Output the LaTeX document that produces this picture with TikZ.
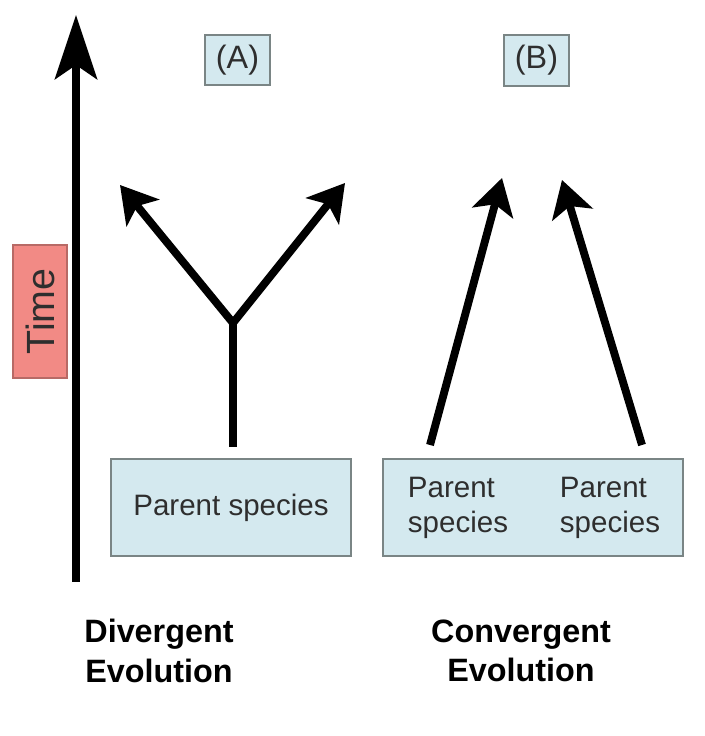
\documentclass[tikz,border=0pt]{standalone}
\usepackage{fontspec}
\setmainfont{Liberation Sans}
\usetikzlibrary{arrows.meta}
\definecolor{boxblue}{HTML}{D4E9EF}
\definecolor{boxline}{HTML}{7A8585}
\definecolor{timered}{HTML}{F28A85}
\definecolor{timeline}{HTML}{B86A66}
\definecolor{textgray}{HTML}{2E2E2E}

\begin{document}
\begin{tikzpicture}[
    bluebox/.style={draw=boxline, fill=boxblue, line width=1.2pt, inner sep=0pt},
    evo/.style={line width=5.6pt, -{Stealth[length=0.9cm, width=1.05cm, inset=0.22cm]}},
    caption/.style={font=\fontsize{23}{28}\selectfont\bfseries, align=center, inner sep=0pt}
  ]
    \useasboundingbox (0,0) rectangle (17.6,18.4);
    % time axis
    \coordinate (t0) at (1.9,3.85);
    \coordinate (t1) at (1.9,18.025);
    \draw[line width=6pt, -{Stealth[length=1.6cm, width=1.05cm, inset=0.35cm]}] (t0) -- (t1);
    \node[draw=timeline, fill=timered, line width=1pt, minimum width=3.325cm, minimum height=1.35cm,
      inner sep=0pt, rotate=90, font=\fontsize{28}{30}\selectfont, text=textgray] (time) at (1.0,10.6125) {Time};
    \begin{scope}
      % divergent
      \node[bluebox, minimum width=1.625cm, minimum height=1.25cm, font=\fontsize{23}{25}\selectfont, text=textgray]
        (labA) at (5.9375,16.9) {(A)};
      \node[bluebox, minimum width=6cm, minimum height=2.425cm] (parA) at (5.775,5.7125) {};
      \node[font=\fontsize{21}{25}\selectfont, text=textgray] (parAtxt) at (parA) {Parent species};
      \coordinate (stem) at (5.825,7.225);
      \coordinate (fork) at (5.825,10.325);
      \coordinate (tipL) at (3.0,13.775);
      \coordinate (tipR) at (8.625,13.825);
      \draw[line width=5.6pt] (stem) -- (fork);
      \draw[evo] (fork) -- (tipL);
      \draw[evo] (fork) -- (tipR);
      \node[caption] (div) at (3.975,2.125) {Divergent\\Evolution};
    \end{scope}
    \begin{scope}
      % convergent
      \node[bluebox, minimum width=1.625cm, minimum height=1.275cm, font=\fontsize{23}{25}\selectfont, text=textgray]
        (labB) at (13.4125,16.8875) {(B)};
      \node[bluebox, minimum width=7.5cm, minimum height=2.425cm] (parB) at (13.325,5.7125) {};
      \node[font=\fontsize{21}{25}\selectfont, text=textgray, align=left] (parB1) at (11.45,5.7125) {Parent\\species};
      \node[font=\fontsize{21}{25}\selectfont, text=textgray, align=left] (parB2) at (15.25,5.7125) {Parent\\species};
      \coordinate (baseL) at (10.75,7.275);
      \coordinate (baseR) at (16.05,7.275);
      \coordinate (topL) at (12.55,13.95);
      \coordinate (topR) at (14.05,13.9);
      \draw[evo] (baseL) -- (topL);
      \draw[evo] (baseR) -- (topR);
      \node[caption] (conv) at (13.025,2.125) {Convergent\\Evolution};
    \end{scope}
  \end{tikzpicture}
\end{document}
